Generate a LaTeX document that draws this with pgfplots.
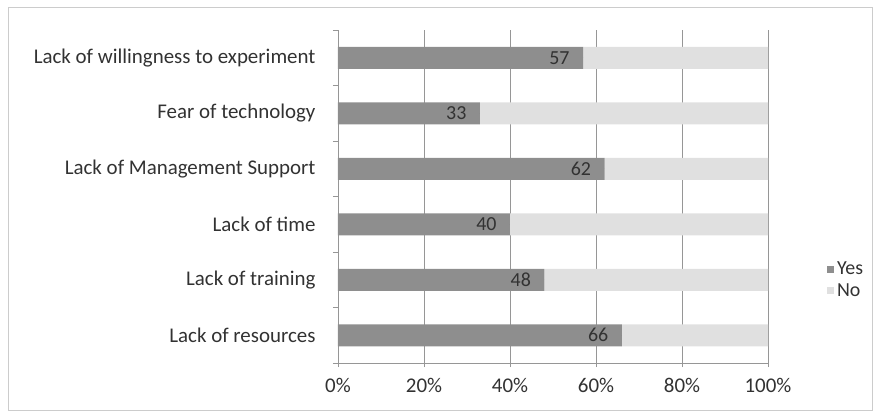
\documentclass[border=0pt]{standalone}
\usepackage{pgfplots}
\pgfplotsset{compat=1.18}
\usepackage{fontspec}
\setmainfont{Carlito}
\definecolor{yescol}{RGB}{142,142,142}
\definecolor{nocol}{RGB}{224,224,224}
\definecolor{txt}{RGB}{50,50,50}
\definecolor{gridc}{RGB}{150,150,150}
\begin{document}
\begin{tikzpicture}
\begin{axis}[
  at={(0,0)}, anchor=south west,
  scale only axis,
  width=430bp, height=333bp,
  stack plots=x,
  bar width=22bp,
  xmin=0, xmax=100,
  ymin=-0.5, ymax=5.5,
  axis x line*=bottom, axis y line*=left,
  axis line style={gridc, -},
  xtick={0,20,40,60,80,100},
  xticklabels={0\%,20\%,40\%,60\%,80\%,100\%},
  xmajorgrids, grid style={gridc, line width=0.6pt},
  ytick={0,1,2,3,4,5},
  yticklabels={Lack of resources, Lack of training, Lack of time, Lack of Management Support, Fear of technology, Lack of willingness to experiment},
  major tick length=0pt,
  extra y ticks={-0.5,0.5,1.5,2.5,3.5,4.5,5.5},
  extra y tick labels={},
  extra y tick style={major tick length=5bp, tick align=outside, tick style={gridc}, grid=none},
  extra x ticks={0,20,40,60,80,100},
  extra x tick labels={},
  extra x tick style={major tick length=4bp, tick align=outside, tick style={gridc}},
  tick label style={font=\fontsize{21}{24}\selectfont, text=txt},
  yticklabel style={xshift=-19bp},
  xticklabel style={yshift=-12bp},
  legend style={at={(1.13,0.25)}, anchor=west, draw=none, fill=none,
    font=\fontsize{20}{24}\selectfont, text=txt, row sep=3bp,
    legend cell align=left,
    nodes={inner xsep=3bp}},
  legend image code/.code={\fill[#1] (0bp,-3.5bp) rectangle (7bp,3.5bp);},
]
\addplot[xbar, fill=yescol, draw=none]
  coordinates {(66,0) (48,1) (40,2) (62,3) (33,4) (57,5)};
\addlegendentry{Yes}
\addplot[xbar, fill=nocol, draw=none]
  coordinates {(34,0) (52,1) (60,2) (38,3) (67,4) (43,5)};
\addlegendentry{No}
\addplot[forget plot, stack plots=false, only marks, mark=*, mark size=0pt,
  mark options={draw=none, fill=none},
  nodes near coords, point meta=explicit symbolic,
  every node near coord/.append style={anchor=east, xshift=-10bp, yshift=0bp, text=txt, font=\fontsize{20}{24}\selectfont}]
  coordinates {(66,0) [66] (48,1) [48] (40,2) [40] (62,3) [62] (33,4) [33] (57,5) [57]};
\end{axis}
\pgfresetboundingbox
\path[use as bounding box] (-338bp,-51bp) rectangle (552bp,363bp);
\draw[gray!40, line width=0.8pt] (-330bp,-47bp) rectangle (534bp,356bp);
\end{tikzpicture}
\end{document}
